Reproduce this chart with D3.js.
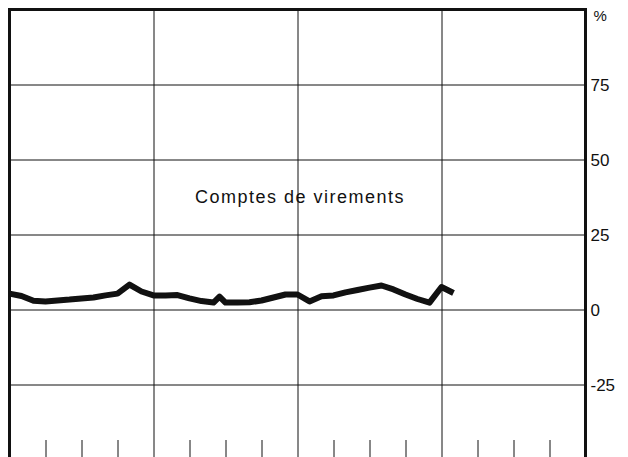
<!DOCTYPE html>
<html>
<head>
<meta charset="utf-8">
<style>
body{margin:0;background:#fff;}
svg{display:block;}
.grid line{stroke:#111;stroke-width:1;}
.grid path{display:none;}
</style>
</head>
<body>
<svg id="svg"></svg>
<script src="https://cdnjs.cloudflare.com/ajax/libs/d3/7.8.5/d3.min.js"></script>
<script>
// mois depuis le debut de la periode (4 annees, 48 mois)
var mois = [0,1,2,3,4,5,6,7,8,9,10,11,12,13,14,15,16,17,17.5,18,19,20,21,22,23,24,25,26,27,28,29,30,31,32,33,34,35,36,37]
var valeurs = [5.3,4.5,2.9,2.7,3.0,3.3,3.7,4.0,4.7,5.3,8.3,6.0,4.7,4.7,4.8,3.7,2.8,2.3,4.3,2.3,2.3,2.4,3.0,4.0,5.0,5.0,2.7,4.4,4.7,5.7,6.5,7.3,8.0,6.7,5.0,3.5,2.3,7.5,5.5]
var yTicks = [75,50,25,0,-25]
var anneeTicks = [12,24,36]
var trimTicks = [3,6,9,15,18,21,27,30,33,39,42,45]
var titre = 'Comptes de virements'

var W = 628, H = 457
var mL = 9.5, mR = 585.5, mT = 9.5
var x = d3.scaleLinear().domain([0,48]).range([mL,mR])
var y = d3.scaleLinear().domain([-50,100]).range([459.5,mT])

var svg = d3.select('#svg').attr('width',W).attr('height',H)

// lignes horizontales + etiquettes a droite
var gy = svg.append('g').attr('class','grid')
  .attr('transform','translate('+mR+',0)')
  .call(d3.axisRight(y).tickValues(yTicks).tickSize(-(mR-mL)).tickFormat(function(d){return String(d)}))
gy.attr('font-family','"Liberation Sans",Arial,sans-serif').attr('font-size',17)
gy.selectAll('.tick text').attr('x',5).attr('dy','0.35em').attr('fill','#111')

gy.append('text').attr('x',8).attr('y',21).text('%')
  .attr('font-size',15).attr('fill','#111')

// lignes verticales (annees)
svg.append('g').attr('class','grid')
  .attr('transform','translate(0,'+H+')')
  .call(d3.axisBottom(x).tickValues(anneeTicks).tickSize(-(H-mT)).tickFormat(''))

// petits traits trimestriels en bas
svg.append('g').attr('class','grid')
  .attr('transform','translate(0,'+H+')')
  .call(d3.axisBottom(x).tickValues(trimTicks).tickSize(-17).tickFormat(''))

// cadre
svg.append('path')
  .attr('d','M'+mL+','+H+'V'+mT+'H'+mR+'V'+H)
  .attr('fill','none').attr('stroke','#111').attr('stroke-width',3)

// courbe
var line = d3.line().x(function(d,i){return x(mois[i])}).y(function(d){return y(d)})
svg.append('path').datum(valeurs)
  .attr('d',line)
  .attr('fill','none').attr('stroke','#111').attr('stroke-width',6)
  .attr('stroke-linejoin','round')

svg.append('text').attr('x',300).attr('y',y(37.5)).attr('text-anchor','middle')
  .attr('dy','0.35em')
  .style('font-family','"Liberation Sans",Arial,sans-serif').style('font-size','18px')
  .style('letter-spacing','1.5px').attr('fill','#111')
  .text(titre)
</script>
</body>
</html>
